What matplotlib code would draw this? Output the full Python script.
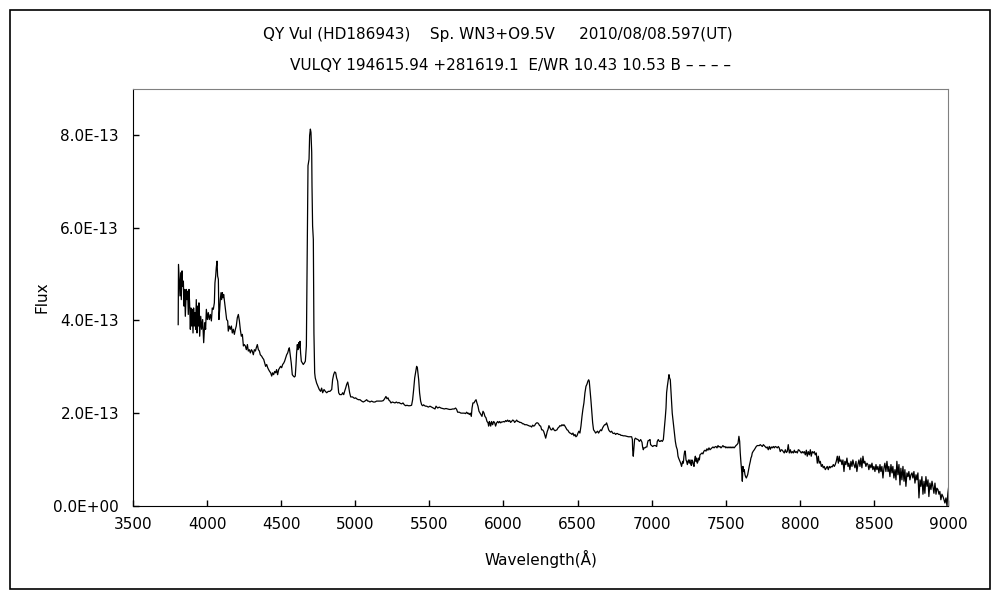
import matplotlib
matplotlib.use("Agg")
import matplotlib.pyplot as plt
from matplotlib.patches import Rectangle
from matplotlib.ticker import FuncFormatter, MultipleLocator

plt.rcParams['font.family'] = ['DejaVu Sans', 'Noto Sans CJK JP']

# spectrum: wavelength (A) and flux (units of 1E-13)
wave = [
    3805, 3807, 3813, 3817, 3822, 3826, 3831, 3835, 3840, 3844, 3849, 3853, 3860, 3864, 3869, 3873,
    3878, 3882, 3887, 3891, 3896, 3900, 3905, 3909, 3914, 3918, 3923, 3927, 3932, 3936, 3941, 3945,
    3950, 3957, 3963, 3970, 3977, 3984, 3990, 3995, 4002, 4008, 4015, 4022, 4029, 4035, 4042, 4049,
    4053, 4058, 4062, 4067, 4071, 4076, 4080, 4085, 4089, 4094, 4098, 4103, 4107, 4112, 4116, 4121,
    4125, 4132, 4139, 4143, 4150, 4157, 4164, 4170, 4177, 4184, 4191, 4197, 4204, 4211, 4218, 4224,
    4231, 4238, 4245, 4251, 4258, 4265, 4272, 4278, 4285, 4292, 4299, 4305, 4312, 4319, 4326, 4332,
    4339, 4346, 4353, 4359, 4368, 4375, 4382, 4389, 4395, 4402, 4409, 4415, 4422, 4429, 4436, 4442,
    4449, 4456, 4463, 4469, 4476, 4483, 4490, 4496, 4503, 4510, 4517, 4523, 4530, 4537, 4544, 4550,
    4555, 4562, 4568, 4575, 4582, 4589, 4595, 4600, 4604, 4609, 4613, 4618, 4622, 4627, 4631, 4636,
    4643, 4649, 4656, 4663, 4670, 4676, 4681, 4688, 4692, 4697, 4701, 4706, 4708, 4712, 4717, 4721,
    4726, 4730, 4739, 4748, 4757, 4766, 4773, 4780, 4789, 4798, 4807, 4818, 4829, 4841, 4847, 4854,
    4861, 4868, 4874, 4881, 4888, 4895, 4901, 4908, 4915, 4922, 4928, 4935, 4942, 4949, 4955, 4962,
    4969, 4976, 4982, 4989, 4996, 5003, 5009, 5021, 5032, 5043, 5054, 5065, 5077, 5084, 5090, 5099,
    5110, 5122, 5133, 5144, 5155, 5167, 5178, 5189, 5198, 5207, 5214, 5221, 5227, 5234, 5241, 5250,
    5259, 5268, 5277, 5286, 5295, 5304, 5313, 5322, 5331, 5340, 5349, 5358, 5369, 5380, 5387, 5394,
    5401, 5407, 5414, 5419, 5423, 5428, 5434, 5441, 5448, 5455, 5461, 5468, 5475, 5482, 5493, 5504,
    5515, 5527, 5538, 5545, 5556, 5567, 5578, 5590, 5601, 5612, 5623, 5635, 5646, 5657, 5668, 5677,
    5684, 5691, 5702, 5713, 5724, 5736, 5745, 5751, 5760, 5763, 5770, 5776, 5783, 5788, 5794, 5801,
    5808, 5815, 5821, 5828, 5835, 5842, 5848, 5855, 5862, 5869, 5875, 5882, 5889, 5896, 5900, 5905,
    5909, 5914, 5920, 5927, 5934, 5941, 5947, 5954, 5961, 5968, 5974, 5981, 5988, 5995, 6001, 6008,
    6015, 6022, 6028, 6035, 6042, 6048, 6055, 6062, 6069, 6075, 6082, 6089, 6096, 6102, 6109, 6116,
    6123, 6129, 6136, 6143, 6150, 6156, 6163, 6170, 6177, 6183, 6190, 6197, 6204, 6210, 6217, 6224,
    6231, 6237, 6244, 6251, 6258, 6264, 6271, 6278, 6285, 6291, 6296, 6300, 6307, 6314, 6321, 6327,
    6334, 6341, 6348, 6354, 6361, 6368, 6375, 6381, 6388, 6395, 6402, 6408, 6415, 6422, 6429, 6435,
    6442, 6449, 6456, 6462, 6469, 6476, 6483, 6489, 6496, 6503, 6509, 6516, 6523, 6530, 6536, 6543,
    6550, 6557, 6563, 6570, 6575, 6579, 6584, 6590, 6597, 6602, 6608, 6615, 6622, 6629, 6635, 6642,
    6649, 6656, 6662, 6669, 6676, 6683, 6689, 6696, 6703, 6710, 6716, 6723, 6730, 6737, 6743, 6750,
    6757, 6764, 6770, 6777, 6784, 6786, 6793, 6800, 6809, 6820, 6831, 6843, 6854, 6865, 6870, 6872,
    6876, 6881, 6885, 6890, 6899, 6908, 6917, 6926, 6935, 6939, 6944, 6948, 6955, 6962, 6968, 6973,
    6977, 6984, 6989, 6993, 7000, 7007, 7016, 7025, 7034, 7038, 7045, 7052, 7058, 7065, 7072, 7079,
    7085, 7092, 7097, 7101, 7106, 7112, 7117, 7121, 7126, 7130, 7135, 7139, 7146, 7153, 7160, 7166,
    7173, 7178, 7182, 7187, 7191, 7196, 7202, 7209, 7214, 7218, 7223, 7227, 7232, 7236, 7241, 7245,
    7250, 7254, 7259, 7263, 7268, 7272, 7277, 7281, 7286, 7290, 7295, 7299, 7304, 7308, 7313, 7317,
    7322, 7326, 7333, 7340, 7346, 7353, 7360, 7367, 7373, 7380, 7387, 7394, 7400, 7407, 7414, 7421,
    7427, 7434, 7441, 7448, 7454, 7461, 7468, 7474, 7481, 7488, 7495, 7501, 7508, 7515, 7522, 7529,
    7535, 7542, 7549, 7556, 7562, 7569, 7576, 7583, 7589, 7594, 7598, 7603, 7607, 7612, 7616, 7621,
    7625, 7630, 7634, 7639, 7643, 7648, 7652, 7657, 7661, 7666, 7670, 7675, 7679, 7686, 7693, 7700,
    7706, 7713, 7720, 7727, 7733, 7740, 7747, 7754, 7760, 7767, 7774, 7780, 7787, 7794, 7801, 7807,
    7814, 7821, 7828, 7834, 7841, 7848, 7855, 7861, 7868, 7875, 7882, 7888, 7895, 7902, 7909, 7915,
    7922, 7929, 7936, 7942, 7949, 7956, 7963, 7969, 7976, 7983, 7990, 7996, 8003, 8010, 8017, 8023,
    8030, 8037, 8044, 8050, 8057, 8064, 8071, 8077, 8084, 8091, 8098, 8104, 8111, 8118, 8125, 8131,
    8138, 8145, 8152, 8158, 8165, 8172, 8179, 8185, 8192, 8199, 8206, 8212, 8219, 8226, 8233, 8239,
    8246, 8253, 8260, 8266, 8271, 8278, 8284, 8291, 8298, 8304, 8311, 8318, 8325, 8331, 8338, 8345,
    8352, 8358, 8365, 8372, 8379, 8385, 8392, 8399, 8406, 8412, 8419, 8426, 8433, 8439, 8446, 8453,
    8460, 8466, 8473, 8480, 8487, 8493, 8500, 8507, 8514, 8520, 8527, 8534, 8541, 8547, 8554, 8561,
    8568, 8574, 8581, 8588, 8595, 8601, 8608, 8615, 8622, 8628, 8635, 8642, 8649, 8655, 8662, 8669,
    8676, 8682, 8689, 8696, 8703, 8709, 8716, 8723, 8730, 8736, 8743, 8750, 8757, 8763, 8770, 8777,
    8784, 8790, 8797, 8804, 8811, 8817, 8824, 8831, 8838, 8844, 8851, 8858, 8865, 8871, 8878, 8885,
    8892, 8898, 8905, 8912, 8919, 8925, 8932, 8939, 8945, 8952, 8959, 8966, 8973, 8979, 8986, 8993,
    8999, 9006, 9011,
]

flux = [
    3.91, 5.21, 4.81, 4.53, 5.03, 4.45, 5.07, 4.74, 4.85, 4.31, 4.67, 4.09, 4.67, 4.45, 4.63, 4.13,
    4.67, 4.38, 3.81, 4.27, 3.88, 4.24, 3.73, 4.27, 3.88, 4.17, 3.81, 4.45, 3.73, 4.31, 3.88, 4.38,
    3.66, 4.09, 3.81, 4.02, 3.52, 3.95, 3.81, 4.24, 4.02, 4.17, 4.02, 4.13, 3.99, 4.27, 4.24, 4.38,
    4.81, 4.96, 5.14, 5.28, 4.96, 4.89, 4.02, 4.24, 4.45, 4.60, 4.45, 4.60, 4.49, 4.56, 4.45, 4.31,
    4.20, 4.02, 3.99, 3.77, 3.88, 3.81, 3.88, 3.73, 3.81, 3.70, 3.81, 3.88, 4.06, 4.13, 3.99, 3.81,
    3.66, 3.70, 3.45, 3.48, 3.45, 3.37, 3.48, 3.34, 3.37, 3.30, 3.37, 3.34, 3.26, 3.37, 3.34, 3.41,
    3.48, 3.37, 3.34, 3.26, 3.23, 3.19, 3.16, 3.08, 3.01, 3.05, 2.98, 2.94, 2.90, 2.87, 2.80, 2.87,
    2.83, 2.90, 2.87, 2.94, 2.83, 2.94, 2.98, 3.01, 2.98, 3.05, 3.08, 3.12, 3.19, 3.26, 3.30, 3.37,
    3.41, 3.23, 3.08, 2.83, 2.80, 2.78, 2.80, 3.05, 3.30, 3.48, 3.37, 3.52, 3.41, 3.55, 3.30, 3.12,
    3.08, 3.05, 3.08, 3.12, 3.45, 5.68, 7.34, 7.48, 7.99, 8.13, 8.06, 7.63, 6.90, 6.04, 5.75, 3.73,
    2.87, 2.76, 2.65, 2.58, 2.51, 2.47, 2.54, 2.44, 2.51, 2.47, 2.44, 2.47, 2.47, 2.51, 2.72, 2.83,
    2.89, 2.87, 2.76, 2.69, 2.44, 2.40, 2.40, 2.40, 2.44, 2.40, 2.47, 2.54, 2.62, 2.67, 2.58, 2.44,
    2.35, 2.35, 2.35, 2.33, 2.32, 2.33, 2.31, 2.29, 2.29, 2.26, 2.24, 2.26, 2.29, 2.26, 2.26, 2.24,
    2.26, 2.24, 2.24, 2.26, 2.26, 2.26, 2.26, 2.27, 2.31, 2.36, 2.31, 2.33, 2.28, 2.26, 2.22, 2.24,
    2.23, 2.22, 2.24, 2.22, 2.23, 2.21, 2.20, 2.22, 2.18, 2.16, 2.17, 2.16, 2.16, 2.17, 2.29, 2.51,
    2.76, 2.87, 3.01, 2.98, 2.87, 2.72, 2.44, 2.26, 2.18, 2.16, 2.18, 2.16, 2.15, 2.15, 2.13, 2.15,
    2.13, 2.11, 2.09, 2.15, 2.11, 2.13, 2.11, 2.10, 2.09, 2.10, 2.09, 2.08, 2.08, 2.09, 2.09, 2.11,
    2.08, 2.02, 2.02, 2.00, 2.00, 2.00, 1.99, 2.02, 1.99, 2.00, 1.97, 2.00, 1.93, 2.11, 2.22, 2.22,
    2.26, 2.29, 2.22, 2.15, 2.04, 2.00, 1.97, 1.93, 2.04, 2.00, 1.93, 1.90, 1.82, 1.79, 1.72, 1.82,
    1.79, 1.72, 1.82, 1.75, 1.82, 1.79, 1.72, 1.79, 1.82, 1.79, 1.82, 1.79, 1.81, 1.81, 1.82, 1.81,
    1.84, 1.82, 1.85, 1.82, 1.84, 1.80, 1.82, 1.85, 1.84, 1.80, 1.82, 1.85, 1.82, 1.82, 1.80, 1.80,
    1.79, 1.77, 1.77, 1.75, 1.75, 1.75, 1.74, 1.73, 1.72, 1.72, 1.70, 1.74, 1.72, 1.73, 1.77, 1.79,
    1.79, 1.77, 1.73, 1.72, 1.64, 1.64, 1.61, 1.54, 1.46, 1.54, 1.61, 1.64, 1.73, 1.68, 1.64, 1.64,
    1.68, 1.64, 1.62, 1.63, 1.64, 1.68, 1.70, 1.73, 1.72, 1.75, 1.73, 1.75, 1.72, 1.68, 1.64, 1.63,
    1.59, 1.57, 1.56, 1.54, 1.57, 1.51, 1.54, 1.49, 1.51, 1.57, 1.61, 1.57, 1.72, 1.93, 2.08, 2.22,
    2.44, 2.58, 2.62, 2.69, 2.72, 2.69, 2.51, 2.29, 2.00, 1.79, 1.64, 1.61, 1.57, 1.59, 1.61, 1.57,
    1.61, 1.64, 1.62, 1.68, 1.72, 1.75, 1.75, 1.79, 1.72, 1.64, 1.61, 1.59, 1.61, 1.57, 1.56, 1.57,
    1.54, 1.56, 1.56, 1.54, 1.54, 1.54, 1.52, 1.52, 1.51, 1.51, 1.50, 1.49, 1.49, 1.49, 1.43, 1.21,
    1.07, 1.28, 1.43, 1.46, 1.44, 1.43, 1.39, 1.43, 1.37, 1.27, 1.21, 1.25, 1.25, 1.27, 1.27, 1.37,
    1.41, 1.41, 1.43, 1.32, 1.30, 1.28, 1.30, 1.30, 1.28, 1.39, 1.43, 1.39, 1.39, 1.41, 1.39, 1.43,
    1.64, 1.90, 2.11, 2.44, 2.58, 2.72, 2.83, 2.76, 2.72, 2.51, 2.26, 2.00, 1.79, 1.57, 1.39, 1.28,
    1.21, 1.07, 1.03, 0.99, 0.96, 0.92, 0.85, 0.96, 0.92, 1.07, 1.18, 1.18, 0.99, 0.96, 0.89, 0.96,
    0.99, 0.92, 0.99, 0.92, 0.87, 0.99, 0.96, 0.89, 0.85, 0.99, 1.07, 0.96, 1.03, 0.92, 0.96, 1.03,
    0.99, 1.10, 1.12, 1.14, 1.12, 1.18, 1.20, 1.18, 1.23, 1.20, 1.25, 1.21, 1.23, 1.25, 1.27, 1.25,
    1.27, 1.28, 1.25, 1.30, 1.27, 1.28, 1.25, 1.27, 1.30, 1.27, 1.28, 1.25, 1.27, 1.25, 1.27, 1.25,
    1.27, 1.25, 1.27, 1.25, 1.27, 1.30, 1.32, 1.35, 1.50, 1.39, 1.14, 0.92, 0.78, 0.53, 0.85, 0.74,
    0.78, 0.67, 0.63, 0.60, 0.63, 0.67, 0.74, 0.82, 0.89, 0.96, 1.03, 1.07, 1.14, 1.18, 1.21, 1.25,
    1.28, 1.30, 1.30, 1.30, 1.32, 1.30, 1.28, 1.32, 1.30, 1.28, 1.25, 1.27, 1.21, 1.28, 1.22, 1.27,
    1.25, 1.28, 1.25, 1.28, 1.27, 1.25, 1.28, 1.25, 1.17, 1.21, 1.20, 1.17, 1.14, 1.21, 1.15, 1.17,
    1.32, 1.14, 1.21, 1.14, 1.17, 1.14, 1.20, 1.15, 1.17, 1.14, 1.21, 1.20, 1.17, 1.14, 1.17, 1.14,
    1.17, 1.10, 1.20, 1.07, 1.17, 1.10, 1.21, 1.07, 1.17, 1.14, 1.17, 1.10, 1.14, 0.92, 1.07, 0.92,
    0.96, 0.85, 0.89, 0.82, 0.85, 0.78, 0.82, 0.85, 0.78, 0.85, 0.82, 0.85, 0.84, 0.89, 0.85, 0.89,
    0.96, 1.07, 0.92, 1.07, 0.96, 0.99, 0.89, 0.99, 0.74, 0.96, 0.89, 1.03, 0.85, 0.92, 0.78, 0.96,
    0.85, 0.99, 0.89, 0.82, 0.96, 0.74, 0.89, 0.99, 0.85, 1.03, 0.82, 1.07, 0.92, 0.96, 0.85, 0.92,
    0.89, 0.78, 0.89, 0.82, 0.92, 0.78, 0.85, 0.74, 0.89, 0.78, 0.85, 0.71, 0.89, 0.74, 0.85, 0.60,
    0.82, 0.92, 0.74, 0.96, 0.74, 0.85, 0.63, 0.89, 0.71, 0.85, 0.60, 0.78, 0.56, 0.96, 0.67, 0.89,
    0.45, 0.81, 0.56, 0.85, 0.53, 0.78, 0.42, 0.71, 0.63, 0.74, 0.56, 0.67, 0.71, 0.60, 0.74, 0.49,
    0.67, 0.56, 0.71, 0.17, 0.56, 0.42, 0.63, 0.25, 0.53, 0.27, 0.63, 0.42, 0.56, 0.20, 0.49, 0.35,
    0.53, 0.42, 0.27, 0.49, 0.25, 0.38, 0.35, 0.25, 0.31, 0.13, 0.25, 0.20, 0.13, 0.06, 0.17, 0.00,
    0.27, 0.45, 0.13,
]

title1 = "QY Vul (HD186943)    Sp. WN3+O9.5V     2010/08/08.597(UT)"
title2 = "VULQY 194615.94 +281619.1  E/WR 10.43 10.53 B \u2013 \u2013 \u2013 \u2013"
x_ticks = [3500, 4000, 4500, 5000, 5500, 6000, 6500, 7000, 7500, 8000, 8500, 9000]

fig = plt.figure(figsize=(10, 6), dpi=100)
fig.patches.append(Rectangle((0.010, 0.018), 0.980, 0.966, transform=fig.transFigure,
                             fill=False, edgecolor='black', linewidth=1.2))

ax = fig.add_axes([0.133, 0.157, 0.815, 0.695])
ax.plot(wave, [f * 1e-13 for f in flux], color='black', linewidth=0.9)

ax.set_xlim(3500, 9000)
ax.set_ylim(0, 9e-13)
ax.set_xticks(x_ticks)
ax.yaxis.set_major_locator(MultipleLocator(2e-13))
ax.yaxis.set_major_formatter(FuncFormatter(lambda v, p: '{:.1E}'.format(v)))
ax.tick_params(direction='in', length=4, width=1, labelsize=11, color='black')
ax.tick_params(axis='y', pad=10)
ax.tick_params(axis='x', pad=8)

for s in ['top', 'right']:
    ax.spines[s].set_color('#808080')
for s in ['left', 'bottom']:
    ax.spines[s].set_color('black')

ax.set_xlabel("Wavelength(\u00c5)", fontsize=11)
ax.set_ylabel("Flux", fontsize=11)
ax.xaxis.set_label_coords(0.5, -0.105)
ax.yaxis.set_label_coords(-0.103, 0.5)

fig.text(0.498, 0.943, title1, ha='center', va='center', fontsize=11)
fig.text(0.510, 0.891, title2, ha='center', va='center', fontsize=11)

fig.savefig('out.png', dpi=100)
